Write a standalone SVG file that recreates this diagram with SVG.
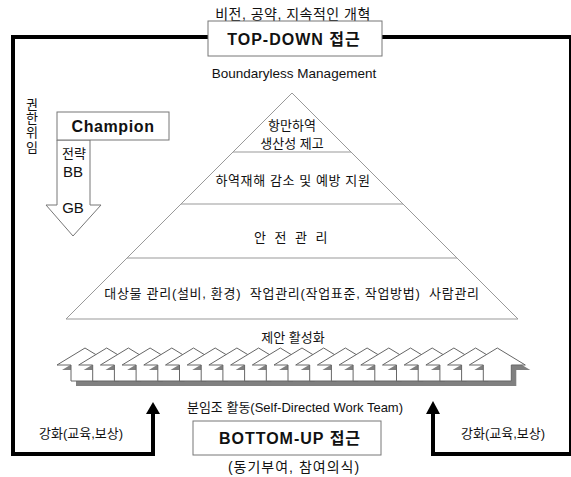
<svg xmlns="http://www.w3.org/2000/svg" width="571" height="477" viewBox="0 0 571 477">
<defs>
<style>
text{font-family:"Liberation Sans","Noto Sans CJK KR",sans-serif;fill:#111;text-anchor:middle;}
.t{font-size:13px;}
.b{font-size:16px;font-weight:bold;}
.box{fill:#fff;stroke:#777;stroke-width:1;}
.frame{fill:none;stroke:#000;stroke-width:4;}
.pyr{fill:none;stroke:#999;stroke-width:1;}
.arr{fill:#fff;stroke:#666;stroke-width:1;}
.sh{fill:#808080;stroke:none;}
</style>
<path id="up" d="M0,0 L28,17 L14,17 L14,33 L-14,33 L-14,17 L-28,17 Z"/>
</defs>
<rect width="571" height="477" fill="#fff"/>

<g id="connectors">
<path class="frame" d="M208,37 L13,37 L13,454 L153,454 L153,413"/>
<path d="M146,414 L153,402 L160,414 Z" fill="#000"/>
<path class="frame" d="M382,37 L571,37 L571,454 L433,454 L433,413"/>
<path d="M426,414 L433,401 L440,414 Z" fill="#000"/>
</g>

<text class="t" x="293" y="19" style="font-size:14px" letter-spacing="0.5">비전, 공약, 지속적인 개혁</text>

<g id="topdown">
<rect class="box" x="208" y="21" width="174" height="35"/>
<text class="b" x="294" y="45" letter-spacing="1">TOP-DOWN 접근</text>
</g>

<text class="t" x="294" y="78" style="font-size:13.5px">Boundaryless Management</text>

<g id="pyramid">
<path class="pyr" d="M292,93 L66,319 L518,319 Z"/>
<line class="pyr" x1="233" y1="152" x2="351" y2="152"/>
<line class="pyr" x1="181" y1="204" x2="403" y2="204"/>
<line class="pyr" x1="127" y1="258" x2="457" y2="258"/>
<text class="t" x="292" y="130">항만하역</text>
<text class="t" x="292" y="148">생산성 제고</text>
<text class="t" x="293" y="185" letter-spacing="0.6">하역재해 감소 및 예방 지원</text>
<text class="t" x="292" y="242" letter-spacing="2.5">안 전 관 리</text>
<text class="t" x="292" y="298" xml:space="preserve" letter-spacing="0.7">대상물 관리(설비, 환경)  작업관리(작업표준, 작업방법)  사람관리</text>
</g>

<g id="champion">
<path d="M57,140 L90,140 L90,205 L101,205 L73,236 L46,205 L57,205 Z" class="box"/>
<rect class="box" x="57" y="112" width="112" height="28"/>
<text class="b" x="113" y="132" letter-spacing="0.6">Champion</text>
<text class="t" x="74" y="158">전략</text>
<text class="t" x="73" y="177" style="font-size:15px">BB</text>
<text class="t" x="73" y="213" style="font-size:15px">GB</text>
</g>

<g id="delegation">
<text class="t" x="32" y="109">권</text>
<text class="t" x="32" y="123">한</text>
<text class="t" x="32" y="137">위</text>
<text class="t" x="32" y="152">임</text>
</g>

<text class="t" x="293" y="342">제안 활성화</text>

<g id="proposals">
<use href="#up" class="sh" x="90" y="353"/><use href="#up" class="arr" x="85" y="348"/>
<use href="#up" class="sh" x="111.7" y="353"/><use href="#up" class="arr" x="106.7" y="348"/>
<use href="#up" class="sh" x="133.4" y="353"/><use href="#up" class="arr" x="128.4" y="348"/>
<use href="#up" class="sh" x="155.1" y="353"/><use href="#up" class="arr" x="150.1" y="348"/>
<use href="#up" class="sh" x="176.8" y="353"/><use href="#up" class="arr" x="171.8" y="348"/>
<use href="#up" class="sh" x="198.5" y="353"/><use href="#up" class="arr" x="193.5" y="348"/>
<use href="#up" class="sh" x="220.2" y="353"/><use href="#up" class="arr" x="215.2" y="348"/>
<use href="#up" class="sh" x="241.9" y="353"/><use href="#up" class="arr" x="236.9" y="348"/>
<use href="#up" class="sh" x="263.6" y="353"/><use href="#up" class="arr" x="258.6" y="348"/>
<use href="#up" class="sh" x="285.3" y="353"/><use href="#up" class="arr" x="280.3" y="348"/>
<use href="#up" class="sh" x="307" y="353"/><use href="#up" class="arr" x="302" y="348"/>
<use href="#up" class="sh" x="328.7" y="353"/><use href="#up" class="arr" x="323.7" y="348"/>
<use href="#up" class="sh" x="350.4" y="353"/><use href="#up" class="arr" x="345.4" y="348"/>
<use href="#up" class="sh" x="372.1" y="353"/><use href="#up" class="arr" x="367.1" y="348"/>
<use href="#up" class="sh" x="393.8" y="353"/><use href="#up" class="arr" x="388.8" y="348"/>
<use href="#up" class="sh" x="415.5" y="353"/><use href="#up" class="arr" x="410.5" y="348"/>
<use href="#up" class="sh" x="437.2" y="353"/><use href="#up" class="arr" x="432.2" y="348"/>
<use href="#up" class="sh" x="458.9" y="353"/><use href="#up" class="arr" x="453.9" y="348"/>
<use href="#up" class="sh" x="480.6" y="353"/><use href="#up" class="arr" x="475.6" y="348"/>
<use href="#up" class="sh" x="502.3" y="353"/><use href="#up" class="arr" x="497.3" y="348"/>
</g>

<text class="t" x="295" y="412">분임조 활동(Self-Directed Work Team)</text>

<g id="bottomup">
<rect class="box" x="193" y="421" width="188" height="34"/>
<text class="b" x="290" y="444" letter-spacing="1">BOTTOM-UP 접근</text>
</g>

<text class="t" x="294" y="472" style="font-size:14px" letter-spacing="1">(동기부여, 참여의식)</text>
<text class="t" x="81" y="438">강화(교육,보상)</text>
<text class="t" x="503" y="438">강화(교육,보상)</text>
</svg>
